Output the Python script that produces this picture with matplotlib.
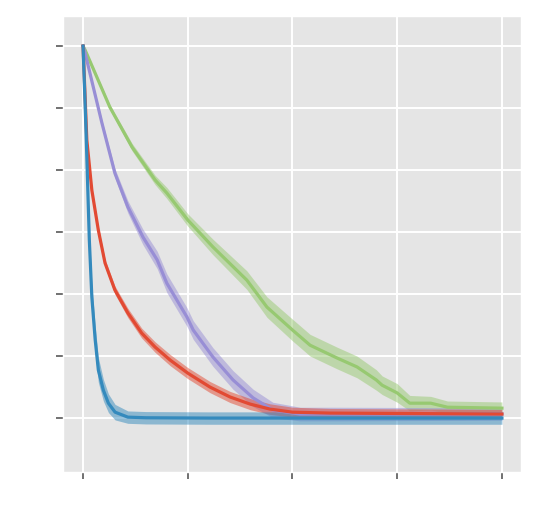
import numpy as np
import matplotlib
matplotlib.use("Agg")
import matplotlib.pyplot as plt

plt.style.use("ggplot")

# ---data (mean curve and half-width of the band)---
green_x = [0, 0.5, 6.4, 11.7, 17.2, 20, 25, 31, 39.1, 43.9, 50, 54.2, 60.6, 65.4, 70, 71.4, 75, 78, 83, 87, 100]
green_y = [1.2, 1.187, 1.003, 0.874, 0.768, 0.726, 0.639, 0.552, 0.445, 0.358, 0.284, 0.235, 0.194, 0.165, 0.123, 0.106, 0.081, 0.048, 0.048, 0.035, 0.032]
green_s = [0.0, 0.005, 0.008, 0.012, 0.015, 0.018, 0.02, 0.025, 0.03, 0.033, 0.035, 0.035, 0.035, 0.035, 0.033, 0.03, 0.03, 0.025, 0.022, 0.02, 0.02]

purple_x = [0, 0.5, 4.5, 7.6, 10.7, 14.3, 17.7, 20, 24.8, 26.3, 31, 35.8, 40.6, 45.3, 51.8, 60, 100]
purple_y = [1.2, 1.177, 0.952, 0.79, 0.681, 0.584, 0.51, 0.435, 0.326, 0.284, 0.197, 0.123, 0.065, 0.026, 0.013, 0.013, 0.013]
purple_s = [0.0, 0.005, 0.01, 0.015, 0.02, 0.025, 0.028, 0.03, 0.03, 0.03, 0.03, 0.03, 0.028, 0.025, 0.022, 0.022, 0.02]

red_x = [0, 0.9, 2.1, 3.65, 5.25, 7.6, 10.7, 14, 17.2, 20.8, 25, 30.3, 35.1, 39.9, 44.6, 50, 59, 100]
red_y = [1.2, 0.897, 0.735, 0.606, 0.5, 0.413, 0.339, 0.274, 0.229, 0.187, 0.145, 0.1, 0.068, 0.045, 0.029, 0.019, 0.016, 0.013]
red_s = [0.0, 0.005, 0.008, 0.01, 0.012, 0.013, 0.015, 0.016, 0.017, 0.018, 0.018, 0.018, 0.018, 0.018, 0.017, 0.016, 0.015, 0.015]

blue_x = [0, 0.7, 1.5, 2.1, 2.9, 3.65, 4.85, 6.05, 7.65, 10.7, 15, 30, 50, 75, 100]
blue_y = [1.2, 0.93, 0.574, 0.39, 0.252, 0.155, 0.09, 0.048, 0.019, 0.003, 0.001, 0.0, 0.0, 0.0, 0.0]
blue_s = [0.0, 0.01, 0.03, 0.04, 0.045, 0.04, 0.035, 0.03, 0.025, 0.02, 0.02, 0.02, 0.02, 0.02, 0.02]

series = [
    (green_x, green_y, green_s, "#97C971"),
    (purple_x, purple_y, purple_s, "#988ED5"),
    (red_x, red_y, red_s, "#E24A33"),
    (blue_x, blue_y, blue_s, "#348ABD"),
]

fig = plt.figure(figsize=(5.38, 5.11), dpi=100)
ax = fig.add_axes([0.117, 0.0763, 0.851, 0.8924])

for x, y, s, c in series:
    x = np.array(x)
    y = np.array(y)
    s = np.array(s)
    ax.fill_between(x, y - s, y + s, color=c, alpha=0.5, linewidth=0)
    ax.plot(x, y, color=c, linewidth=2.3)

ax.set_xlim(-4.8, 104.5)
ax.set_ylim(-0.174, 1.297)
ax.set_xticks([0, 25, 50, 75, 100])
ax.set_yticks([0, 0.2, 0.4, 0.6, 0.8, 1.0, 1.2])
ax.set_xticklabels([])
ax.set_yticklabels([])
ax.grid(True, color="white", linewidth=1.4)
ax.tick_params(length=5, width=1.3, color="#666666")

fig.savefig("out.png", dpi=100)
